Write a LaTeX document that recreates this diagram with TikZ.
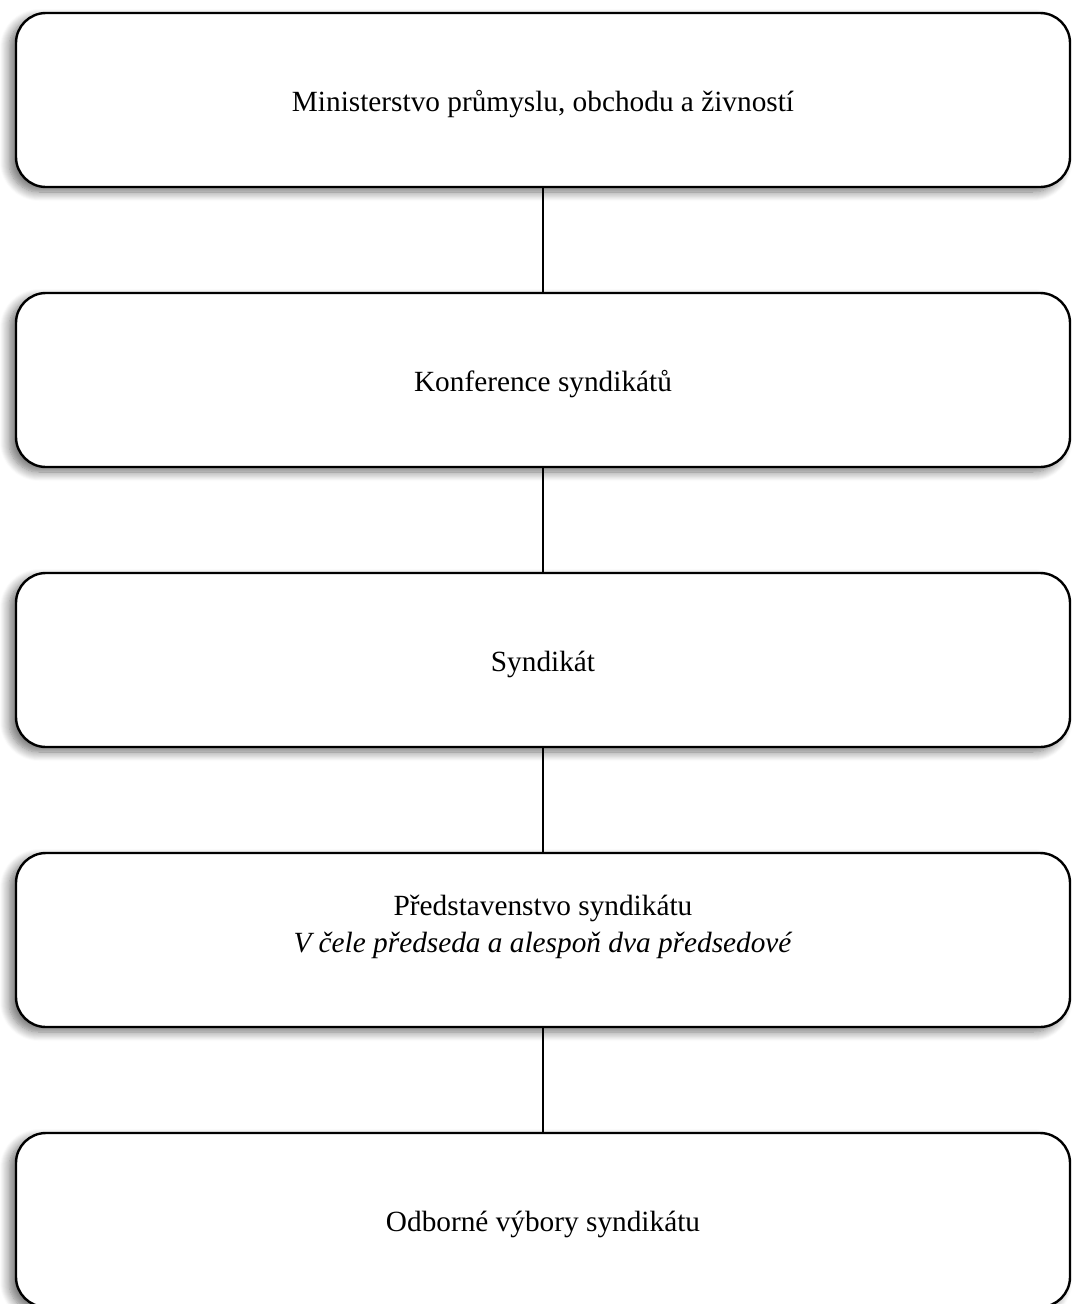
\documentclass[tikz,border=0pt]{standalone}
\usepackage{fontspec}
\setmainfont{Liberation Serif}
\usetikzlibrary{shadows.blur}

\begin{document}
\begin{tikzpicture}[x=1pt,y=-1pt,
  orgbox/.style={draw=black, line width=2.4pt, rounded corners=30pt, fill=white,
    minimum width=1054pt, minimum height=174pt, align=center,
    font=\fontsize{29.3}{37}\selectfont, text height=30pt, text depth=7pt,
    blur shadow={shadow xshift=-7pt, shadow yshift=-5pt, shadow blur radius=9pt, shadow blur steps=10, shadow opacity=55}},
  link/.style={black, line width=2pt}]

\useasboundingbox (0,0) rectangle (1072,1304);

\node[orgbox] (ministerstvo) at (543,100) {Ministerstvo průmyslu, obchodu a živností};
\node[orgbox] (konference) at (543,380) {Konference syndikátů};
\node[orgbox] (syndikat) at (543,660) {Syndikát};
\node[orgbox, text height=60pt, text depth=36pt] (predstavenstvo) at (543,940) {Představenstvo syndikátu\\\textit{V čele předseda a alespoň dva předsedové}};
\node[orgbox] (vybory) at (543,1220) {Odborné výbory syndikátu};

\draw[link] (ministerstvo) -- (konference);
\draw[link] (konference) -- (syndikat);
\draw[link] (syndikat) -- (predstavenstvo);
\draw[link] (predstavenstvo) -- (vybory);

\end{tikzpicture}
\end{document}
